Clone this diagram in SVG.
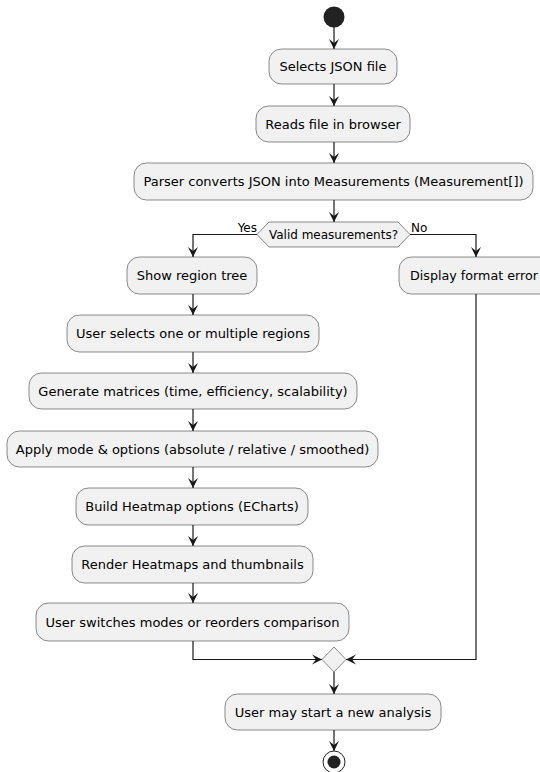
<svg xmlns="http://www.w3.org/2000/svg" width="540" height="772" viewBox="0 0 540 772">
<style>
.box{fill:#F1F1F1;stroke:#181818;stroke-width:0.5}
.t{font-family:"DejaVu Sans",sans-serif;font-size:13px;fill:#000;text-anchor:middle}
.s{font-family:"DejaVu Sans",sans-serif;font-size:12px;fill:#000}
.c{fill:none;stroke:#181818;stroke-width:1.2}
</style>
<defs>
<marker id="ah" markerUnits="userSpaceOnUse" markerWidth="12" markerHeight="12" refX="10" refY="5" orient="auto" overflow="visible">
<path d="M0,0 L10,5 L0,10 L4,5 Z" fill="#181818"/>
</marker>
</defs>
<g id="connectors">
<line class="c" x1="334" y1="27" x2="334" y2="49" marker-end="url(#ah)"/>
<line class="c" x1="334" y1="84" x2="334" y2="106" marker-end="url(#ah)"/>
<line class="c" x1="334" y1="142" x2="334" y2="163" marker-end="url(#ah)"/>
<line class="c" x1="334" y1="200" x2="334" y2="222" marker-end="url(#ah)"/>
<polyline class="c" points="257,234.5 193,234.5 193,257" marker-end="url(#ah)"/>
<polyline class="c" points="410,234.5 476,234.5 476,257" marker-end="url(#ah)"/>
<line class="c" x1="193" y1="294" x2="193" y2="315" marker-end="url(#ah)"/>
<line class="c" x1="193" y1="352" x2="193" y2="373" marker-end="url(#ah)"/>
<line class="c" x1="193" y1="409" x2="193" y2="431" marker-end="url(#ah)"/>
<line class="c" x1="193" y1="467" x2="193" y2="488" marker-end="url(#ah)"/>
<line class="c" x1="193" y1="525" x2="193" y2="546" marker-end="url(#ah)"/>
<line class="c" x1="193" y1="583" x2="193" y2="603" marker-end="url(#ah)"/>
<polyline class="c" points="193,641 193,659.5 322,659.5" marker-end="url(#ah)"/>
<polyline class="c" points="476,294 476,659.5 346,659.5" marker-end="url(#ah)"/>
<line class="c" x1="334" y1="672" x2="334" y2="694" marker-end="url(#ah)"/>
<line class="c" x1="334" y1="730" x2="334" y2="751" marker-end="url(#ah)"/>
<text class="s" x="257" y="232" style="text-anchor:end">Yes</text>
<text class="s" x="411" y="232">No</text>
</g>
<g id="start"><circle cx="334" cy="17" r="10.5" fill="#222222"/></g>
<g id="n1"><rect class="box" x="269" y="49" width="128" height="35" rx="12.5"/><text class="t" x="333" y="71">Selects JSON file</text></g>
<g id="n2"><rect class="box" x="256" y="106" width="154" height="36" rx="12.5"/><text class="t" x="333" y="128.5">Reads file in browser</text></g>
<g id="n3"><rect class="box" x="134" y="163" width="399" height="37" rx="12.5"/><text class="t" x="333.5" y="186">Parser converts JSON into Measurements (Measurement[])</text></g>
<g id="d1"><polygon class="box" points="257,234.5 269,222 398,222 410,234.5 398,247 269,247"/><text class="s" x="333.5" y="238.5" style="text-anchor:middle">Valid measurements?</text></g>
<g id="n4"><rect class="box" x="127" y="257" width="130" height="37" rx="12.5"/><text class="t" x="192" y="280">Show region tree</text></g>
<g id="n5"><rect class="box" x="399" y="257" width="158" height="37" rx="12.5"/><text class="t" x="410" y="280" style="text-anchor:start" textLength="128" lengthAdjust="spacingAndGlyphs">Display format error</text></g>
<g id="n6"><rect class="box" x="67" y="315" width="252" height="37" rx="12.5"/><text class="t" x="193" y="338">User selects one or multiple regions</text></g>
<g id="n7"><rect class="box" x="29" y="373" width="328" height="36" rx="12.5"/><text class="t" x="193" y="395.5">Generate matrices (time, efficiency, scalability)</text></g>
<g id="n8"><rect class="box" x="7" y="431" width="371" height="36" rx="12.5"/><text class="t" x="192.5" y="453.5">Apply mode &amp; options (absolute / relative / smoothed)</text></g>
<g id="n9"><rect class="box" x="76" y="488" width="232" height="37" rx="12.5"/><text class="t" x="192" y="511">Build Heatmap options (ECharts)</text></g>
<g id="n10"><rect class="box" x="72" y="546" width="241" height="37" rx="12.5"/><text class="t" x="192.5" y="569">Render Heatmaps and thumbnails</text></g>
<g id="n11"><rect class="box" x="36" y="603" width="313" height="38" rx="12.5"/><text class="t" x="192.5" y="626.5">User switches modes or reorders comparison</text></g>
<g id="merge"><polygon class="box" points="334,647 346,659.5 334,672 322,659.5"/></g>
<g id="n12"><rect class="box" x="225" y="694" width="216" height="36" rx="12.5"/><text class="t" x="333" y="716.5">User may start a new analysis</text></g>
<g id="end"><circle cx="334" cy="762" r="11" fill="none" stroke="#222222" stroke-width="1"/><circle cx="334" cy="762" r="6.5" fill="#222222"/></g>
</svg>
